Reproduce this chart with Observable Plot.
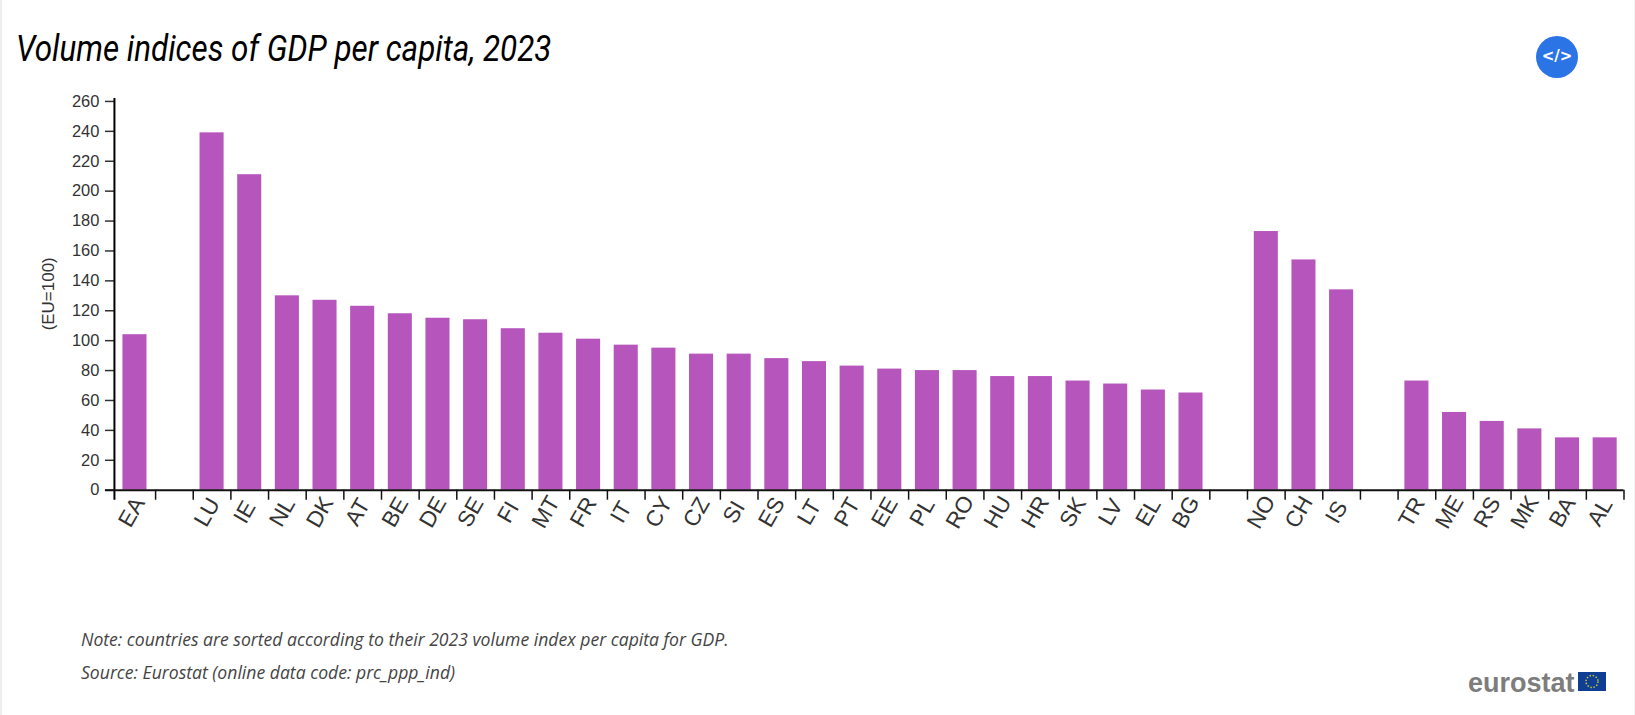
<!DOCTYPE html>
<html><head><meta charset="utf-8">
<script src="https://cdn.jsdelivr.net/npm/d3@7"></script>
<script src="https://cdn.jsdelivr.net/npm/@observablehq/plot@0.6"></script>
<style>
html,body{margin:0;padding:0;background:#fff;overflow:hidden}
#page{position:relative;width:1635px;height:715px;box-sizing:border-box;border-left:2px solid #eee;border-right:1px solid #f2f2f2}
#title{position:absolute;left:14px;top:28px;font:italic 400 36px Roboto,sans-serif;color:#000;transform:scaleX(.872);transform-origin:left top;white-space:nowrap}
#chart{position:absolute;left:-2px;top:0}
.note{position:absolute;left:79px;font:italic 400 17.6px "Open Sans",sans-serif;color:#444;white-space:nowrap}
#btn{position:absolute;left:1534px;top:36px;width:42px;height:42px;border-radius:50%;background:#2a74e6;color:#fff;font:700 15px "DejaVu Sans",sans-serif;text-align:center;line-height:41px}
#logo{position:absolute;left:1466px;top:668px;font:700 27px "Liberation Sans",sans-serif;color:#7d7d7d;white-space:nowrap}
#flag{position:absolute;left:1576px;top:672px}
</style></head><body>
<div id="page">
<div id="chart"></div>
<div id="title">Volume indices of GDP per capita, 2023</div>
<div id="btn">&lt;/&gt;</div>
<div class="note" style="top:627px">Note: countries are sorted according to their 2023 volume index per capita for GDP.</div>
<div class="note" style="top:660px">Source: Eurostat (online data code: prc_ppp_ind)</div>
<div id="logo">eurostat</div>
<svg id="flag" width="28" height="19" viewBox="0 0 28 19"><rect width="28" height="19" fill="#0f3f94"/><circle id="stars" cx="14" cy="9.5" r="6" fill="none" stroke="#d9c92e" stroke-width="1.5" stroke-dasharray="1.4 1.74"/></svg>
</div>
<script>
const geoEA = ["EA"];
const geoEU = ["LU","IE","NL","DK","AT","BE","DE","SE","FI","MT","FR","IT","CY","CZ","SI","ES","LT","PT","EE","PL","RO","HU","HR","SK","LV","EL","BG"];
const geoEFTA = ["NO","CH","IS"];
const geoCand = ["TR","ME","RS","MK","BA","AL"];
const valuesEA = [104];
const valuesEU = [239,211,130,127,123,118,115,114,108,105,101,97,95,91,91,88,86,83,81,80,80,76,76,73,71,67,65];
const valuesEFTA = [173,154,134];
const valuesCand = [73,52,46,41,35,35];
const yTicks = [0,20,40,60,80,100,120,140,160,180,200,220,240,260];

const domain = [...geoEA," ",...geoEU,"  ",...geoEFTA,"   ",...geoCand];
const geos = [...geoEA,...geoEU,...geoEFTA,...geoCand];
const vals = [...valuesEA,...valuesEU,...valuesEFTA,...valuesCand];
const rows = geos.map((g,i)=>({geo:g,value:vals[i]}));

const W=1635,H=600,ml=117.5,mr=10.5,mt=101,mb=110;
const step=(W-ml-mr)/domain.length;

const plot = Plot.plot({
  width:W,height:H,marginLeft:ml,marginRight:mr,marginTop:mt,marginBottom:mb,
  style:{fontFamily:"'Liberation Sans',Arial,sans-serif",fontSize:"16px",color:"#333",background:"transparent"},
  x:{domain,padding:0,round:false,label:null},
  y:{domain:[0,260],label:null},
  marks:[
    Plot.barY(rows.slice(0,1),{x:"geo",y:"value",fill:"#b656bd",insetLeft:6.8,insetRight:6.8,dx:-1.8}),
    Plot.barY(rows.slice(1),{x:"geo",y:"value",fill:"#b656bd",insetLeft:6.8,insetRight:6.8}),
    // tick marks sit on the band edges, not band centres
    Plot.ruleX(domain.slice(1),{x:d=>d,y1:0,y2:0,dx:-step/2,stroke:"#111",strokeWidth:1.5,insetBottom:-10}),
    Plot.ruleX([domain[domain.length-1]],{x:d=>d,y1:0,y2:0,dx:step/2,stroke:"#111",strokeWidth:1.5,insetBottom:-10}),
    Plot.axisY({ticks:yTicks,tickSize:9,tickPadding:6,dx:-3.5,label:null,stroke:"#333",strokeWidth:1.5,fontSize:16.5,fill:"#333"}),
    Plot.ruleX([domain[0]],{x:d=>d,dx:-step/2-3.5,y1:262,y2:0,stroke:"#000",strokeWidth:2,insetBottom:-10}),
    Plot.ruleY([0],{stroke:"#111",strokeWidth:2,insetLeft:-12.5}),
    Plot.axisX({tickSize:0,tickPadding:0,label:null,textAnchor:"middle",tickRotate:-60,fontSize:22.5,fill:"#333",dy:22,dx:-5,tickFormat:d=>d.trim()}),
    Plot.text(["(EU=100)"],{frameAnchor:"left",textAnchor:"middle",dx:-69.5,dy:-2,rotate:-90,fontSize:17,fill:"#333"})
  ]
});
document.getElementById("chart").append(plot);
</script>
</body></html>
